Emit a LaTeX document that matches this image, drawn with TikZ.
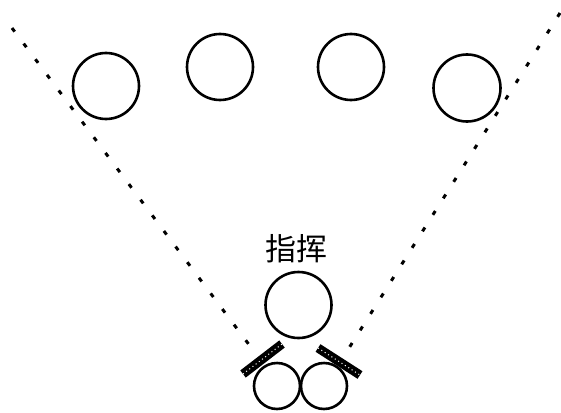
\documentclass[tikz,border=0pt]{standalone}
\usepackage{fontspec}
\newfontfamily\cjk{Noto Sans CJK SC}
\begin{document}
\begin{tikzpicture}[x=1pt,y=-1pt,
  seat/.style={circle,draw=black,line width=2.6pt,inner sep=0pt,minimum size=#1},
  guide/.style={line width=3pt,dash pattern=on 4.5pt off 15pt,black},
  stand/.style={line width=9pt,black},
  standhatch/.style={line width=1pt,white,dash pattern=on 1pt off 3pt}]
\useasboundingbox (0,0) rectangle (561,412);
% dotted sight lines
\coordinate (l1) at (12,28);
\coordinate (l2) at (250,346);
\coordinate (r1) at (560,13);
\coordinate (r2) at (349,348);
\draw[guide] (l1) -- (l2);
\draw[guide] (r1) -- (r2);
% orchestra
\node[seat=66pt] (c1) at (106,86) {};
\node[seat=66pt] (c2) at (220,67) {};
\node[seat=66pt] (c3) at (351,67) {};
\node[seat=67pt] (c4) at (467,88) {};
% conductor
\node[seat=66pt] (cond) at (298.5,305) {};
\node[font=\cjk\fontsize{31}{31}\selectfont,inner sep=0pt] (lab) at (296,249) {指挥};
% small seats
\node[seat=46pt] (s1) at (277,386) {};
\node[seat=46pt] (s2) at (324,386) {};
% stands
\coordinate (a1) at (243,374);
\coordinate (a2) at (282,344);
\coordinate (b1) at (318,348);
\coordinate (b2) at (360,375);
\draw[stand] (a1) -- (a2);
\draw[stand] (b1) -- (b2);
\draw[standhatch] (a1) -- (a2);
\draw[standhatch] (b1) -- (b2);
\end{tikzpicture}
\end{document}
